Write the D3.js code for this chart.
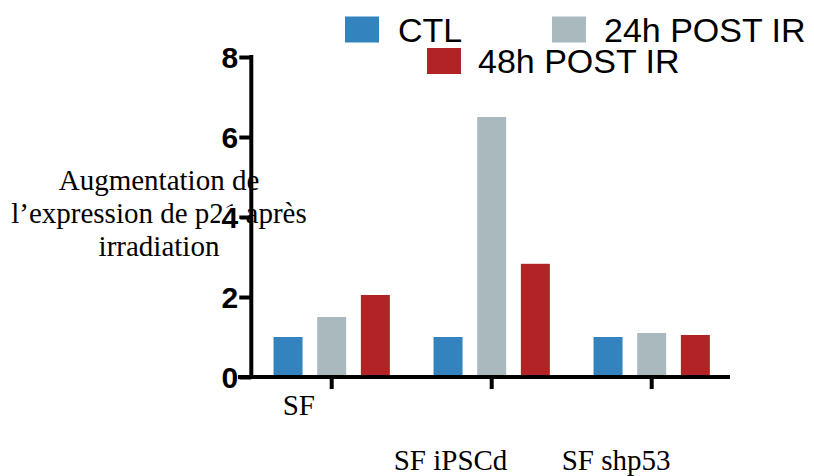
<!DOCTYPE html>
<html>
<head>
<meta charset="utf-8">
<script src="https://cdn.jsdelivr.net/npm/d3@7/dist/d3.min.js"></script>
<style>
  html, body { margin: 0; padding: 0; background: #fff; }
  svg { display: block; }
</style>
</head>
<body>
<svg id="chart" width="814" height="476"></svg>
<script>
// ---- data ----
const categories = ["SF", "SF iPSCd", "SF shp53"];
const seriesNames = ["CTL", "24h POST IR", "48h POST IR"];
const ctlValues = [1, 1, 1];
const post24Values = [1.5, 6.5, 1.1];
const post48Values = [2.05, 2.83, 1.05];
const yTickValues = [0, 2, 4, 6, 8];
const titleLines = ["Augmentation de", "l\u2019expression de p21 apr\u00e8s", "irradiation"];

// ---- layout / style ----
const colors = ["#3283be", "#aab9be", "#b22325"];
const labelOffsets = [[-49, 415], [-98, 470], [-90, 470]]; // category label placement (rel. to tick x, absolute y)

const svg = d3.select("#chart");
const seriesData = [ctlValues, post24Values, post48Values];

const y = d3.scaleLinear().domain([0, 8]).range([377, 57]);
const x0 = d3.scaleBand().domain(categories).range([251.7, 731.7]).padding(0);
const x1 = d3.scaleBand().domain(seriesNames).range([-65.5, 65.5]).paddingInner(0.336).paddingOuter(0.168);

// y-axis title (drawn first so axis overlays it)
const title = svg.append("text")
  .attr("x", 159).attr("y", 190)
  .attr("text-anchor", "middle")
  .style("font-family", "'Liberation Serif', 'Times New Roman', serif")
  .style("font-size", "29px")
  .attr("fill", "#000");
title.selectAll("tspan").data(titleLines).enter().append("tspan")
  .attr("x", 159).attr("dy", (d, i) => i === 0 ? 0 : 33)
  .text(d => d);

// bars
const groups = svg.append("g").selectAll("g").data(categories).enter().append("g")
  .attr("transform", d => `translate(${x0(d) + x0.bandwidth() / 2},0)`);
groups.selectAll("rect")
  .data((c, ci) => seriesNames.map((s, si) => ({ s, si, v: seriesData[si][ci] })))
  .enter().append("rect")
  .attr("x", d => x1(d.s))
  .attr("width", x1.bandwidth())
  .attr("y", d => y(d.v))
  .attr("height", d => y(0) - y(d.v))
  .attr("fill", d => colors[d.si]);

// y axis
const yAxis = svg.append("g").attr("transform", "translate(251.3,0)")
  .call(d3.axisLeft(y).tickValues(yTickValues).tickSize(12).tickSizeOuter(0).tickPadding(2));
yAxis.select(".domain").attr("stroke", "#000").attr("stroke-width", 4)
  .attr("d", `M0,${y(8) - 2}V${y(0) + 2}`);
yAxis.selectAll(".tick line").attr("stroke", "#000").attr("stroke-width", 4).attr("x2", -12);
yAxis.selectAll(".tick text")
  .attr("x", -13).attr("dy", "0.36em")
  .style("font-family", "'Liberation Sans', Arial, sans-serif")
  .style("font-weight", "bold")
  .style("font-size", "30px")
  .style("paint-order", "stroke")
  .attr("stroke", "#fff")
  .attr("stroke-width", 4)
  .attr("fill", "#000");

// x axis
const xAxis = svg.append("g").attr("transform", `translate(0,${y(0)})`)
  .call(d3.axisBottom(x0).tickSize(12).tickSizeOuter(0).tickFormat(""));
xAxis.select(".domain").attr("stroke", "#000").attr("stroke-width", 4)
  .attr("d", "M238,0H730");
xAxis.selectAll(".tick line").attr("stroke", "#000").attr("stroke-width", 4);

// category labels
svg.append("g").selectAll("text").data(categories).enter().append("text")
  .attr("x", (d, i) => x0(d) + x0.bandwidth() / 2 + labelOffsets[i][0])
  .attr("y", (d, i) => labelOffsets[i][1])
  .style("font-family", "'Liberation Serif', 'Times New Roman', serif")
  .style("font-size", "29px")
  .attr("fill", "#000")
  .text(d => d);

// legend
const legendPos = [[345, 16.5, 398, 41.5], [552, 16.5, 604, 41.5], [427, 48, 478, 73.3]];
const legend = svg.append("g").selectAll("g").data(seriesNames).enter().append("g");
legend.append("rect")
  .attr("x", (d, i) => legendPos[i][0]).attr("y", (d, i) => legendPos[i][1])
  .attr("width", 34).attr("height", 26)
  .attr("fill", (d, i) => colors[i]);
legend.append("text")
  .attr("x", (d, i) => legendPos[i][2]).attr("y", (d, i) => legendPos[i][3])
  .style("font-family", "'Liberation Sans', Arial, sans-serif")
  .style("font-size", "34px")
  .attr("fill", "#000")
  .text(d => d);
</script>
</body>
</html>
